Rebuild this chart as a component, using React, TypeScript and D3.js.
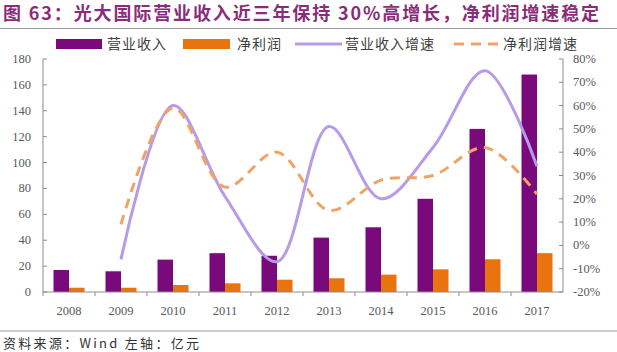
import React from 'react'
import * as d3 from 'd3'

const years = ['2008', '2009', '2010', '2011', '2012', '2013', '2014', '2015', '2016', '2017']
const revenue = [17, 16, 25, 30, 28, 42, 50, 72, 126, 168]
const netProfit = [3.3, 3.3, 5.4, 6.7, 9.5, 10.6, 13.4, 17.5, 25.3, 30]
// growth series start in 2009
const growthYears = years.slice(1)
const revenueGrowth = [-6, 60, 21, -7, 51, 20, 42, 75, 34]
const profitGrowth = [9, 59, 25, 40, 15, 28, 30, 42, 22]
const leftTicks = [0, 20, 40, 60, 80, 100, 120, 140, 160, 180]
const rightTicks = [-20, -10, 0, 10, 20, 30, 40, 50, 60, 70, 80]

const W = 617
const H = 352
const purple = '#7a0a7c'
const orange = '#e8730f'
const lineLavender = '#b79be8'
const lineOrange = '#efa466'
const tickColor = '#595959'
const axisColor = '#8c8c8c'

const App = () => {
  const x = d3.scaleBand().domain(years).range([43, 563])
  const yL = d3.scaleLinear().domain([0, 180]).range([292, 59])
  const yR = d3.scaleLinear().domain([-20, 80]).range([292, 59])
  const barW = 15.5
  const cx = (yr: string) => (x(yr) as number) + x.bandwidth() / 2

  const line = d3
    .line<number>()
    .x((_, i) => cx(growthYears[i]))
    .y((d) => yR(d))
    .curve(d3.curveCatmullRom)

  const legendFont = { fontFamily: '"Noto Sans CJK SC", sans-serif', fontSize: 14, fill: '#404040', letterSpacing: 1 }
  const numFont = { fontFamily: '"Liberation Serif", serif', fontSize: 12.5, fill: tickColor }

  return (
    <svg width={W} height={H} style={{ position: 'absolute', left: 0, top: 0, background: '#fff' }}>
      <text
        x={3}
        y={20}
        textLength={596}
        lengthAdjust="spacing"
        style={{ fontFamily: '"Noto Sans CJK SC", sans-serif', fontSize: 18, fontWeight: 700, fill: '#8a2c79' }}
      >
        图 63：光大国际营业收入近三年保持 30%高增长，净利润增速稳定
      </text>
      <line x1={0} x2={W} y1={28.5} y2={28.5} stroke="#999" strokeWidth={1.2} />

      {/* legend */}
      <rect x={56} y={39} width={46} height={10} fill={purple} />
      <text x={107} y={49} style={legendFont}>营业收入</text>
      <rect x={183} y={39} width={47} height={10} fill={orange} />
      <text x={237} y={49} style={legendFont}>净利润</text>
      <line x1={295} x2={342} y1={44} y2={44} stroke={lineLavender} strokeWidth={3} />
      <text x={345} y={49} style={legendFont}>营业收入增速</text>
      <line x1={454} x2={500} y1={44} y2={44} stroke={lineOrange} strokeWidth={3} strokeDasharray="10,7" />
      <text x={503} y={49} style={legendFont}>净利润增速</text>

      {/* bars */}
      {years.map((yr, i) => (
        <g key={yr}>
          <rect x={cx(yr) - barW} y={yL(revenue[i])} width={barW} height={yL(0) - yL(revenue[i])} fill={purple} />
          <rect x={cx(yr)} y={yL(netProfit[i])} width={barW} height={yL(0) - yL(netProfit[i])} fill={orange} />
        </g>
      ))}

      {/* growth lines */}
      <path d={line(revenueGrowth) || ''} fill="none" stroke={lineLavender} strokeWidth={3} />
      <path d={line(profitGrowth) || ''} fill="none" stroke={lineOrange} strokeWidth={3} strokeDasharray="10,7" />

      {/* left axis */}
      <line x1={43} x2={43} y1={59} y2={292} stroke={axisColor} />
      {leftTicks.map((t) => (
        <g key={t}>
          <line x1={43} x2={47} y1={yL(t)} y2={yL(t)} stroke={axisColor} />
          <text x={31} y={yL(t) + 4} textAnchor="end" style={numFont}>{t}</text>
        </g>
      ))}

      {/* right axis */}
      <line x1={563} x2={563} y1={59} y2={292} stroke={axisColor} />
      {rightTicks.map((t) => (
        <g key={t}>
          <line x1={559} x2={563} y1={yR(t)} y2={yR(t)} stroke={axisColor} />
          <text x={573} y={yR(t) + 4} style={numFont}>{t}%</text>
        </g>
      ))}

      {/* x axis */}
      <line x1={43} x2={563} y1={292} y2={292} stroke={axisColor} />
      {years.map((yr) => (
        <g key={yr}>
          <line x1={x(yr) as number} x2={x(yr) as number} y1={292} y2={296} stroke={axisColor} />
          <text x={cx(yr)} y={315} textAnchor="middle" style={numFont}>{yr}</text>
        </g>
      ))}

      {/* source */}
      <line x1={0} x2={W} y1={331} y2={331} stroke="#999" strokeWidth={1.2} />
      <text
        x={3}
        y={348}
        textLength={196}
        lengthAdjust="spacing"
        style={{ fontFamily: '"Noto Sans CJK SC", sans-serif', fontSize: 13, fill: '#333' }}
      >
        资料来源：Wind 左轴：亿元
      </text>
    </svg>
  )
}

export default App
